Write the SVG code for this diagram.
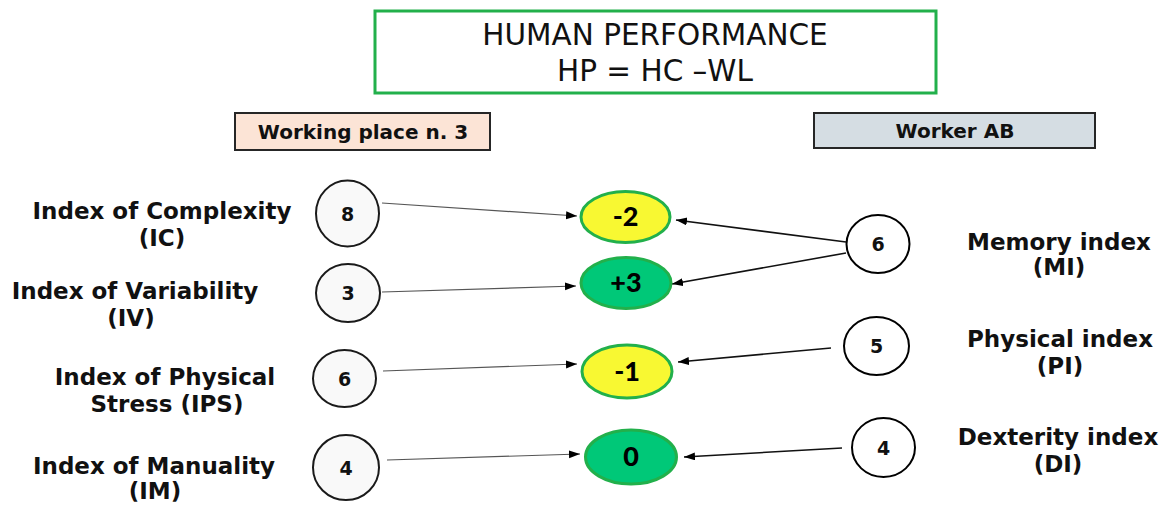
<svg xmlns="http://www.w3.org/2000/svg" width="1163" height="507" viewBox="0 0 1163 507">
<style>
.lbl{font-family:"DejaVu Sans","Liberation Sans",sans-serif;font-weight:bold;font-size:23px;fill:#111;text-anchor:middle}
.hdr{font-family:"DejaVu Sans","Liberation Sans",sans-serif;font-weight:bold;font-size:20px;fill:#111;text-anchor:middle}
.ttl{font-family:"DejaVu Sans","Liberation Sans",sans-serif;font-size:29.5px;fill:#111;text-anchor:middle}
.num{font-family:"DejaVu Sans","Liberation Sans",sans-serif;font-weight:bold;font-size:19px;fill:#111;text-anchor:middle}
.res{font-family:Lato,"Liberation Sans",sans-serif;font-weight:900;font-size:27px;fill:#000;text-anchor:middle}
.lc{fill:#f9f9f9;stroke:#1a1a1a;stroke-width:2}
.rc{fill:#ffffff;stroke:#000;stroke-width:2}
.yel{fill:#f8f832;stroke:#22b04b;stroke-width:3}
.grn{fill:#00c878;stroke:#22b04b;stroke-width:3}
.la{stroke:#555;stroke-width:1.2;fill:none;marker-end:url(#ah)}
.ra{stroke:#111;stroke-width:1.6;fill:none;marker-end:url(#ah)}
</style>
<defs>
<marker id="ah" markerUnits="userSpaceOnUse" markerWidth="12" markerHeight="10" refX="11" refY="4" orient="auto">
<path d="M0,0 L11,4 L0,8 z" fill="#000"/>
</marker>
</defs>
<rect width="1163" height="507" fill="#ffffff"/>

<g id="title">
<rect x="375" y="11" width="561" height="82" fill="#ffffff" stroke="#22b04b" stroke-width="3"/>
<text class="ttl" x="655" y="45">HUMAN PERFORMANCE</text>
<text class="ttl" x="655" y="81">HP = HC –WL</text>
</g>

<g id="working-place">
<rect x="235" y="113" width="255" height="37" fill="#fce4d6" stroke="#262626" stroke-width="2"/>
<text class="hdr" x="363" y="139">Working place n. 3</text>
</g>

<g id="worker">
<rect x="814" y="113" width="281" height="35" fill="#d5dde3" stroke="#262626" stroke-width="2"/>
<text class="hdr" x="955" y="138">Worker AB</text>
</g>

<g id="label-ic"><text class="lbl" x="162" y="219">Index of Complexity</text><text class="lbl" x="162" y="246">(IC)</text></g>
<g id="label-iv"><text class="lbl" x="135" y="299">Index of Variability</text><text class="lbl" x="131" y="326">(IV)</text></g>
<g id="label-ips"><text class="lbl" x="165" y="385">Index of Physical</text><text class="lbl" x="167" y="412">Stress (IPS)</text></g>
<g id="label-im"><text class="lbl" x="154" y="474">Index of Manuality</text><text class="lbl" x="155" y="499">(IM)</text></g>

<g id="label-mi"><text class="lbl" x="1059" y="250">Memory index</text><text class="lbl" x="1059" y="275">(MI)</text></g>
<g id="label-pi"><text class="lbl" x="1060" y="347">Physical index</text><text class="lbl" x="1060" y="374">(PI)</text></g>
<g id="label-di"><text class="lbl" x="1058" y="445">Dexterity index</text><text class="lbl" x="1058" y="472">(DI)</text></g>

<g id="connectors">
<line class="la" x1="382" y1="203" x2="577" y2="216"/>
<line class="la" x1="382" y1="292" x2="576" y2="286"/>
<line class="la" x1="383" y1="371" x2="577" y2="364"/>
<line class="la" x1="387" y1="460" x2="580" y2="454"/>
<line class="ra" x1="846" y1="242" x2="676" y2="220"/>
<line class="ra" x1="846" y1="253" x2="672" y2="284"/>
<line class="ra" x1="831" y1="348" x2="678" y2="362"/>
<line class="ra" x1="842" y1="448" x2="684" y2="457"/>
</g>

<g id="node-ic"><ellipse class="lc" cx="347.5" cy="213.5" rx="31.5" ry="33"/><text class="num" x="347.5" y="220.5">8</text></g>
<g id="node-iv"><ellipse class="lc" cx="348" cy="293" rx="32" ry="29"/><text class="num" x="348" y="300">3</text></g>
<g id="node-ips"><ellipse class="lc" cx="344.5" cy="378.5" rx="31.5" ry="28.5"/><text class="num" x="344.5" y="385.5">6</text></g>
<g id="node-im"><ellipse class="lc" cx="346" cy="467.5" rx="33" ry="32.5"/><text class="num" x="346" y="474.5">4</text></g>

<g id="node-r1"><ellipse class="yel" cx="625.5" cy="217" rx="44.5" ry="25.5"/><text class="res" x="625.5" y="226">-2</text></g>
<g id="node-r2"><ellipse class="grn" cx="626" cy="283" rx="45" ry="25.5"/><text class="res" x="626" y="292">+3</text></g>
<g id="node-r3"><ellipse class="yel" cx="627" cy="371.5" rx="45" ry="26.5"/><text class="res" x="627" y="381">-1</text></g>
<g id="node-r4"><ellipse class="grn" cx="631" cy="457" rx="45.5" ry="27"/><text class="res" x="631" y="466">0</text></g>

<g id="node-mi"><ellipse class="rc" cx="878" cy="244" rx="31.5" ry="29"/><text class="num" x="878" y="251">6</text></g>
<g id="node-pi"><ellipse class="rc" cx="876.5" cy="346" rx="32.5" ry="29"/><text class="num" x="876.5" y="353">5</text></g>
<g id="node-di"><ellipse class="rc" cx="883.5" cy="447.5" rx="31.5" ry="29.5"/><text class="num" x="883.5" y="454.5">4</text></g>
</svg>
